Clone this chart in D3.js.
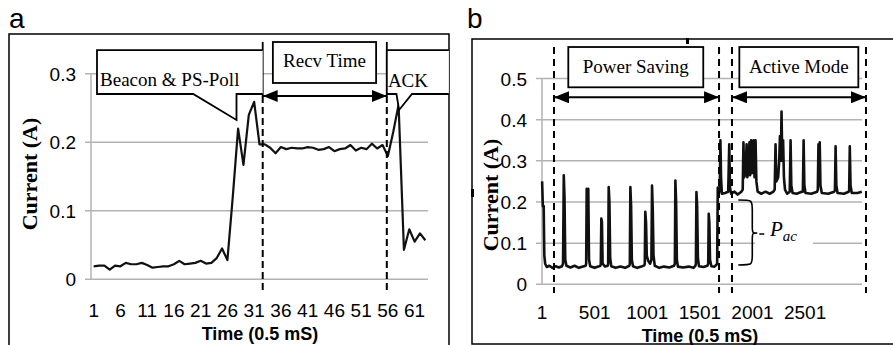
<!DOCTYPE html>
<html>
<head>
<meta charset="utf-8">
<script src="https://d3js.org/d3.v7.min.js"></script>
<style>
body { margin: 0; background: #fff; }
text { fill: #000; }
</style>
</head>
<body>
<script>
// ---- panel a : one wake-up, 0.5 ms samples ----
var aTime = d3.range(1, 64);
var aCurrent = [0.019, 0.020, 0.020, 0.014, 0.020, 0.019, 0.024, 0.022, 0.022, 0.024,
    0.021, 0.017, 0.018, 0.019, 0.019, 0.022, 0.027, 0.022, 0.023, 0.024,
    0.027, 0.023, 0.024, 0.031, 0.045, 0.028, 0.120, 0.220, 0.167, 0.240,
    0.259, 0.197, 0.197, 0.192, 0.184, 0.193, 0.190, 0.192, 0.191, 0.191,
    0.193, 0.192, 0.189, 0.190, 0.193, 0.187, 0.190, 0.191, 0.196, 0.188,
    0.192, 0.190, 0.198, 0.191, 0.196, 0.180, 0.215, 0.255, 0.043, 0.073,
    0.055, 0.067, 0.057];
var aTicksX = [1, 6, 11, 16, 21, 26, 31, 36, 41, 46, 51, 56, 61];
var aTicksY = [0, 0.1, 0.2, 0.3];

// ---- panel b : power saving then active mode ----
var psTime = [1, 8, 16, 22, 30, 45, 70, 100, 130, 160, 190,
    200, 207, 214, 221, 232, 270, 310, 350, 390, 415,
    420, 425, 432, 440, 447, 458, 500, 535, 555,
    559, 564, 570, 576, 600, 625,
    629, 634, 641, 648, 658, 700, 745, 790, 830,
    835, 840, 847, 854, 865, 905, 945, 972,
    977, 982, 989, 996, 1008, 1028, 1040, 1046, 1053, 1060, 1072,
    1115, 1160, 1210, 1255, 1263, 1268, 1275, 1282, 1292, 1340, 1395, 1440, 1458,
    1463, 1468, 1475, 1482, 1492, 1535, 1572,
    1580, 1585, 1591, 1597, 1610, 1640, 1660];
var psCurrent = [0.25, 0.19, 0.19, 0.07, 0.05, 0.042, 0.045, 0.040, 0.044, 0.041, 0.044,
    0.05, 0.265, 0.21, 0.06, 0.045, 0.041, 0.045, 0.040, 0.043, 0.045,
    0.05, 0.232, 0.225, 0.232, 0.06, 0.044, 0.040, 0.043, 0.045,
    0.05, 0.16, 0.15, 0.05, 0.043, 0.045,
    0.05, 0.236, 0.20, 0.065, 0.044, 0.040, 0.043, 0.040, 0.045,
    0.05, 0.236, 0.19, 0.06, 0.044, 0.040, 0.043, 0.046,
    0.05, 0.176, 0.15, 0.07, 0.058, 0.05, 0.06, 0.24, 0.18, 0.07, 0.045,
    0.040, 0.043, 0.041, 0.045, 0.05, 0.252, 0.20, 0.06, 0.043, 0.041, 0.043, 0.040, 0.045,
    0.05, 0.224, 0.19, 0.065, 0.044, 0.042, 0.045,
    0.05, 0.171, 0.15, 0.06, 0.044, 0.043, 0.048];
var amTime = [1665, 1671, 1680, 1690, 1696, 1702, 1710, 1740, 1770, 1780, 1787, 1798, 1830, 1860, 1895,
    1908, 1915, 1922, 1935, 1945, 1952, 1962, 1972, 1978, 1988, 1995, 2005, 2012, 2020, 2030, 2038, 2050,
    2085, 2125, 2165, 2200, 2212, 2220, 2228, 2245, 2255, 2262, 2270, 2277, 2284, 2292, 2300, 2310, 2330,
    2355, 2363, 2370, 2382, 2420, 2470, 2480, 2487, 2494, 2505, 2560, 2615,
    2622, 2628, 2634, 2640, 2647, 2660, 2720, 2778, 2785, 2791, 2798, 2810, 2870, 2915,
    2920, 2926, 2933, 2945, 3000, 3040];
var amCurrent = [0.05, 0.235, 0.222, 0.228, 0.35, 0.26, 0.22, 0.222, 0.225, 0.34, 0.235, 0.22, 0.225, 0.218, 0.225,
    0.23, 0.345, 0.26, 0.27, 0.34, 0.26, 0.28, 0.345, 0.265, 0.35, 0.27, 0.28, 0.35, 0.26, 0.35, 0.25, 0.225,
    0.22, 0.225, 0.22, 0.225, 0.23, 0.34, 0.25, 0.26, 0.30, 0.36, 0.30, 0.42, 0.30, 0.35, 0.26, 0.23, 0.22,
    0.225, 0.35, 0.24, 0.222, 0.22, 0.225, 0.225, 0.35, 0.24, 0.222, 0.22, 0.225,
    0.23, 0.34, 0.26, 0.345, 0.24, 0.222, 0.22, 0.225, 0.228, 0.335, 0.24, 0.222, 0.22, 0.225,
    0.228, 0.335, 0.24, 0.222, 0.222, 0.225];
var bTicksX = [1, 501, 1001, 1501, 2001, 2501];
var bTicksY = [0, 0.1, 0.2, 0.3, 0.4, 0.5];

var tickFont = '"Liberation Sans", Arial, sans-serif';
var boxFont = '"Liberation Serif", "Times New Roman", serif';
var gridColor = '#b3b3b3';

var svg = d3.select('body').append('svg')
    .attr('width', 893)
    .attr('height', 345);

var defs = svg.append('defs');
defs.append('marker')
    .attr('id', 'head')
    .attr('viewBox', '0 0 15 12')
    .attr('refX', 15)
    .attr('refY', 6)
    .attr('markerWidth', 15)
    .attr('markerHeight', 12)
    .attr('markerUnits', 'userSpaceOnUse')
    .attr('orient', 'auto-start-reverse')
    .append('path')
    .attr('d', 'M0,0L15,6L0,12Z')
    .attr('fill', '#000');

// panel frames
svg.append('rect')
    .attr('x', 9).attr('y', 34)
    .attr('width', 440).attr('height', 330)
    .attr('fill', 'none').attr('stroke', '#000').attr('stroke-width', 1.5);
svg.append('rect')
    .attr('x', 472).attr('y', 39)
    .attr('width', 440).attr('height', 305)
    .attr('fill', 'none').attr('stroke', '#000').attr('stroke-width', 1.5);
svg.append('rect').attr('x', 686).attr('y', 38).attr('width', 3).attr('height', 6).attr('fill', '#000');
svg.append('rect').attr('x', 471).attr('y', 189).attr('width', 3).attr('height', 8).attr('fill', '#000');

svg.append('text').attr('x', 9).attr('y', 28)
    .style('font-family', tickFont).style('font-size', '28px').text('a');
svg.append('text').attr('x', 467).attr('y', 28)
    .style('font-family', tickFont).style('font-size', '28px').text('b');

function drawAxes(g, x, y, xTicks, yTicks, x0, x1, yMax, labelDrop) {
    g.append('g').selectAll('line')
        .data(yTicks)
        .enter()
        .append('line')
        .attr('x1', x0 - 6).attr('x2', x1)
        .attr('y1', function(d) { return y(d); })
        .attr('y2', function(d) { return y(d); })
        .attr('stroke', gridColor).attr('stroke-width', 1.5);
    g.append('line')
        .attr('x1', x0).attr('x2', x0)
        .attr('y1', y(0)).attr('y2', y(yMax))
        .attr('stroke', gridColor).attr('stroke-width', 1.5);
    g.append('g').selectAll('text')
        .data(yTicks)
        .enter()
        .append('text')
        .attr('x', x0 - 15)
        .attr('y', function(d) { return y(d) + 7; })
        .attr('text-anchor', 'end')
        .style('font-family', tickFont).style('font-size', '19px')
        .text(function(d) { return d === 0 ? '0' : d3.format('.1f')(d); });
    g.append('g').selectAll('text')
        .data(xTicks)
        .enter()
        .append('text')
        .attr('x', function(d) { return x(d); })
        .attr('y', y(0) + labelDrop)
        .attr('text-anchor', 'middle')
        .style('font-family', tickFont).style('font-size', '19px')
        .text(function(d) { return d; });
}

// ================= panel a =================
var xa = d3.scaleLinear().domain([0.5, 63.5]).range([91, 428]);
var ya = d3.scaleLinear().domain([0, 0.3]).range([279.3, 73.8]);
var ga = svg.append('g');
drawAxes(ga, xa, ya, aTicksX, aTicksY, 91, 428, 0.3, 38);

ga.append('path')
    .datum(aTime)
    .attr('d', d3.line()
        .x(function(d) { return xa(d); })
        .y(function(d, i) { return ya(aCurrent[i]); }))
    .attr('fill', 'none').attr('stroke', '#111').attr('stroke-width', 2.2)
    .attr('stroke-linejoin', 'round');

// markers of the receive window
var aMarks = [32.6, 55.8];
ga.selectAll('.dash')
    .data(aMarks)
    .enter()
    .append('line')
    .attr('x1', function(d) { return xa(d); })
    .attr('x2', function(d) { return xa(d); })
    .attr('y1', ya(0.2676)).attr('y2', ya(-0.0185))
    .attr('stroke', '#000').attr('stroke-width', 2).attr('stroke-dasharray', '7,4');
ga.selectAll('.solid')
    .data(aMarks)
    .enter()
    .append('line')
    .attr('x1', function(d) { return xa(d); })
    .attr('x2', function(d) { return xa(d); })
    .attr('y1', ya(0.3464)).attr('y2', ya(0.2676))
    .attr('stroke', '#000').attr('stroke-width', 1.8);

// callout: Beacon & PS-Poll
ga.append('path')
    .attr('d', 'M' + xa(32.6) + ',' + ya(0.3347) + 'L' + xa(1.62) + ',' + ya(0.3347) +
        'L' + xa(1.62) + ',' + ya(0.2705) + 'L' + xa(19.6) + ',' + ya(0.2705) +
        'L' + xa(27.7) + ',' + ya(0.2326) + 'L' + xa(27.7) + ',' + ya(0.2705) +
        'L' + xa(32.6) + ',' + ya(0.2705))
    .attr('fill', '#fff').attr('stroke', '#000').attr('stroke-width', 1.8);
ga.append('text')
    .attr('x', xa(2.2)).attr('y', ya(0.2815))
    .style('font-family', boxFont).style('font-size', '19px')
    .text('Beacon & PS-Poll');

// callout: ACK
ga.append('path')
    .attr('d', 'M' + xa(67.4) + ',' + ya(0.3347) + 'L' + xa(55.8) + ',' + ya(0.3347) +
        'L' + xa(55.8) + ',' + ya(0.2705) + 'L' + xa(57.6) + ',' + ya(0.2705) +
        'L' + xa(58.1) + ',' + ya(0.2472) + 'L' + xa(60.5) + ',' + ya(0.2705) +
        'L' + xa(67.4) + ',' + ya(0.2705))
    .attr('fill', '#fff').attr('stroke', '#000').attr('stroke-width', 1.8);
ga.append('text')
    .attr('x', xa(56.0)).attr('y', ya(0.2807))
    .style('font-family', boxFont).style('font-size', '19px')
    .text('ACK');

// box: Recv Time
ga.append('rect')
    .attr('x', xa(34.5)).attr('y', ya(0.3464))
    .attr('width', xa(53.8) - xa(34.5)).attr('height', ya(0.2866) - ya(0.3464))
    .attr('fill', '#fff').attr('stroke', '#000').attr('stroke-width', 1.8);
ga.append('text')
    .attr('x', xa(44.15)).attr('y', ya(0.3104))
    .attr('text-anchor', 'middle')
    .style('font-family', boxFont).style('font-size', '19px')
    .text('Recv Time');
ga.append('line')
    .attr('x1', xa(32.6)).attr('x2', xa(55.8))
    .attr('y1', ya(0.2676)).attr('y2', ya(0.2676))
    .attr('stroke', '#000').attr('stroke-width', 2)
    .attr('marker-start', 'url(#head)').attr('marker-end', 'url(#head)');

ga.append('text')
    .attr('transform', 'translate(37,174) rotate(-90)')
    .attr('text-anchor', 'middle')
    .style('font-family', boxFont).style('font-size', '22px').style('font-weight', 'bold')
    .text('Current (A)');
ga.append('text')
    .attr('x', 260).attr('y', 340)
    .attr('text-anchor', 'middle')
    .style('font-family', tickFont).style('font-size', '18px').style('font-weight', 'bold')
    .text('Time (0.5 mS)');

// ================= panel b =================
var xb = d3.scaleLinear().domain([0, 3042]).range([542, 862]);
var yb = d3.scaleLinear().domain([0, 0.5]).range([284.3, 78.5]);
var gb = svg.append('g');
drawAxes(gb, xb, yb, bTicksX, bTicksY, 542, 862, 0.5, 35);

var bTime = psTime.concat(amTime);
var bCurrent = psCurrent.concat(amCurrent);
gb.append('path')
    .datum(bTime)
    .attr('d', d3.line()
        .x(function(d) { return xb(d); })
        .y(function(d, i) { return yb(bCurrent[i]); }))
    .attr('fill', 'none').attr('stroke', '#111').attr('stroke-width', 2.6)
    .attr('stroke-linejoin', 'round');

var bMarks = [114, 1683, 1806, 3080];
gb.selectAll('.dash')
    .data(bMarks)
    .enter()
    .append('line')
    .attr('x1', function(d) { return xb(d); })
    .attr('x2', function(d) { return xb(d); })
    .attr('y1', yb(0.5765)).attr('y2', yb(-0.0211))
    .attr('stroke', '#000').attr('stroke-width', 2).attr('stroke-dasharray', '7,5');

var bBoxes = [
    {from: 250, to: 1533, label: 'Power Saving', left: 114, right: 1683},
    {from: 1876, to: 3007, label: 'Active Mode', left: 1806, right: 3080}
];
gb.selectAll('.box')
    .data(bBoxes)
    .enter()
    .append('rect')
    .attr('x', function(d) { return xb(d.from); })
    .attr('y', yb(0.5765))
    .attr('width', function(d) { return xb(d.to) - xb(d.from); })
    .attr('height', yb(0.4786) - yb(0.5765))
    .attr('fill', '#fff').attr('stroke', '#000').attr('stroke-width', 1.8);
gb.selectAll('.boxlabel')
    .data(bBoxes)
    .enter()
    .append('text')
    .attr('x', function(d) { return xb((d.from + d.to) / 2); })
    .attr('y', yb(0.5126))
    .attr('text-anchor', 'middle')
    .style('font-family', boxFont).style('font-size', '19px')
    .text(function(d) { return d.label; });
gb.selectAll('.arrow')
    .data(bBoxes)
    .enter()
    .append('line')
    .attr('x1', function(d) { return xb(d.left); })
    .attr('x2', function(d) { return xb(d.right); })
    .attr('y1', yb(0.4543)).attr('y2', yb(0.4543))
    .attr('stroke', '#000').attr('stroke-width', 2)
    .attr('marker-start', 'url(#head)').attr('marker-end', 'url(#head)');

// P_ac brace between the two base levels
var bx0 = xb(1866), bxm = xb(1866) + 14, btip = xb(1866) + 19;
var bTop = yb(0.2048), bBot = yb(0.0469), bMid = yb(0.1246);
gb.append('rect')
    .attr('x', xb(2025)).attr('y', bMid - 18)
    .attr('width', xb(2576) - xb(2025)).attr('height', 30)
    .attr('fill', '#fff');
gb.append('path')
    .attr('d', 'M' + bx0 + ',' + bTop +
        'C' + bxm + ',' + bTop + ' ' + bxm + ',' + bTop + ' ' + bxm + ',' + (bTop + 10) +
        'L' + bxm + ',' + (bMid - 7) +
        'C' + bxm + ',' + bMid + ' ' + bxm + ',' + bMid + ' ' + btip + ',' + bMid +
        'C' + bxm + ',' + bMid + ' ' + bxm + ',' + bMid + ' ' + bxm + ',' + (bMid + 7) +
        'L' + bxm + ',' + (bBot - 10) +
        'C' + bxm + ',' + bBot + ' ' + bxm + ',' + bBot + ' ' + bx0 + ',' + bBot)
    .attr('fill', 'none').attr('stroke', '#000').attr('stroke-width', 1.6);
gb.append('line')
    .attr('x1', btip + 2).attr('x2', btip + 7)
    .attr('y1', bMid + 1).attr('y2', bMid + 1)
    .attr('stroke', '#000').attr('stroke-width', 1.5);
var pac = gb.append('text')
    .attr('x', xb(2167)).attr('y', yb(0.1173))
    .style('font-family', boxFont).style('font-style', 'italic').style('font-size', '21px');
pac.append('tspan').text('P');
pac.append('tspan').attr('dy', 5).style('font-size', '15px').text('ac');

gb.append('text')
    .attr('transform', 'translate(498,195) rotate(-90)')
    .attr('text-anchor', 'middle')
    .style('font-family', boxFont).style('font-size', '22px').style('font-weight', 'bold')
    .text('Current (A)');
gb.append('text')
    .attr('x', 700).attr('y', 342)
    .attr('text-anchor', 'middle')
    .style('font-family', tickFont).style('font-size', '18px').style('font-weight', 'bold')
    .text('Time (0.5 mS)');
</script>
</body>
</html>
